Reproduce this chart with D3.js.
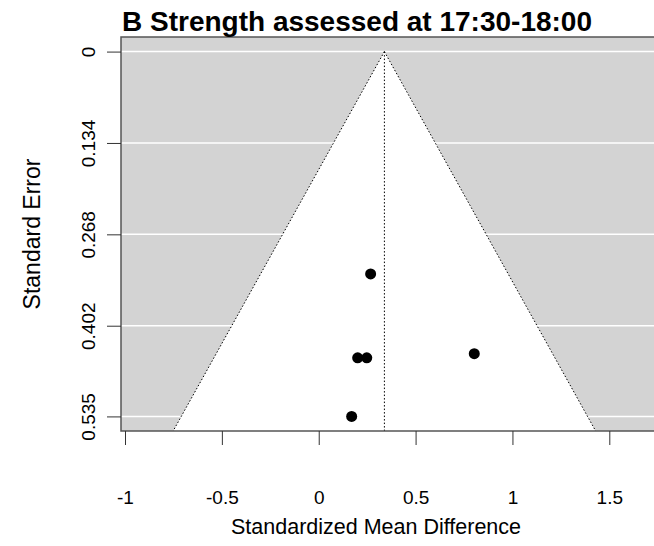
<!DOCTYPE html>
<html>
<head>
<meta charset="utf-8">
<script src="https://cdn.jsdelivr.net/npm/d3@7"></script>
<style>
  body { margin: 0; background: #fff; }
  text { font-family: "Liberation Sans", Arial, sans-serif; }
</style>
</head>
<body>
<div id="funnel"></div>
<script>
// study estimates
var smd = [0.268, 0.201, 0.248, 0.803, 0.170];
var se = [0.326, 0.449, 0.449, 0.443, 0.535];
var pooled = 0.339;
var yTicks = [0, 0.134, 0.268, 0.402, 0.535];
var xTicks = [-1, -0.5, 0, 0.5, 1, 1.5];

var width = 654, height = 546;
var plot = { left: 121, top: 37, right: 660, bottom: 431 };

var svg = d3.select("#funnel")
    .append("svg")
    .attr("width", width)
    .attr("height", height);

var x = d3.scaleLinear()
    .domain([-1, 1.5])
    .range([125, 609.3]);

var yMax = 0.535 * 1.04;
var y = d3.scaleLinear()
    .domain([-0.535 * 0.04, yMax])
    .range([plot.top, plot.bottom]);

svg.append("clipPath")
    .attr("id", "clip")
    .append("rect")
    .attr("x", plot.left)
    .attr("y", plot.top)
    .attr("width", plot.right - plot.left)
    .attr("height", plot.bottom - plot.top);

var g = svg.append("g").attr("clip-path", "url(#clip)");

// grey background
g.append("rect")
    .attr("x", plot.left)
    .attr("y", plot.top)
    .attr("width", plot.right - plot.left)
    .attr("height", plot.bottom - plot.top)
    .attr("fill", "#d3d3d3");

// white grid lines
g.selectAll(".grid")
    .data(yTicks)
    .enter()
    .append("line")
    .attr("x1", plot.left)
    .attr("x2", plot.right)
    .attr("y1", function(d) { return y(d); })
    .attr("y2", function(d) { return y(d); })
    .attr("stroke", "#fff")
    .attr("stroke-width", 1.5);

// funnel region
var lo = pooled - 1.96 * yMax, hi = pooled + 1.96 * yMax;
var funnel = [[pooled, 0], [lo, yMax], [hi, yMax]];
g.append("polygon")
    .attr("points", funnel.map(function(p) { return x(p[0]) + "," + y(p[1]); }).join(" "))
    .attr("fill", "#fff");

[[lo, yMax], [hi, yMax]].forEach(function(p) {
    g.append("line")
        .attr("x1", x(pooled)).attr("y1", y(0))
        .attr("x2", x(p[0])).attr("y2", y(p[1]))
        .attr("stroke", "#000")
        .attr("stroke-width", 1)
        .attr("stroke-dasharray", "1.5,2");
});

// pooled estimate line
g.append("line")
    .attr("x1", x(pooled)).attr("x2", x(pooled))
    .attr("y1", y(0)).attr("y2", plot.bottom)
    .attr("stroke", "#000")
    .attr("stroke-width", 1)
    .attr("stroke-dasharray", "1.5,2");

// studies
g.selectAll("circle")
    .data(smd)
    .enter()
    .append("circle")
    .attr("cx", function(d) { return x(d); })
    .attr("cy", function(d, i) { return y(se[i]); })
    .attr("r", 5.5)
    .attr("fill", "#000");

// box
svg.append("rect")
    .attr("x", plot.left)
    .attr("y", plot.top)
    .attr("width", plot.right - plot.left)
    .attr("height", plot.bottom - plot.top)
    .attr("fill", "none")
    .attr("stroke", "#555")
    .attr("stroke-width", 1.5);

// axes
var yAxis = svg.append("g")
    .attr("transform", "translate(" + plot.left + ",0)")
    .call(d3.axisLeft(y).tickValues(yTicks).tickSize(14).tickFormat(d3.format(".3~f")));
yAxis.select(".domain").remove();
yAxis.selectAll("line").attr("stroke", "#333");
yAxis.selectAll("text")
    .attr("font-size", 19)
    .attr("fill", "#000")
    .attr("transform", "translate(-26,0) rotate(-90)")
    .attr("x", 0)
    .attr("dy", 0)
    .attr("y", 0)
    .style("text-anchor", "middle");

var xAxis = svg.append("g")
    .attr("transform", "translate(0," + plot.bottom + ")")
    .call(d3.axisBottom(x).tickValues(xTicks).tickSize(14).tickFormat(function(d) { return String(d); }));
xAxis.select(".domain").remove();
xAxis.selectAll("line").attr("stroke", "#333");
xAxis.selectAll("text")
    .attr("font-size", 19)
    .attr("fill", "#000")
    .attr("y", 0)
    .attr("dy", 0)
    .attr("transform", "translate(0,73)");

// titles
svg.append("text")
    .attr("x", 122)
    .attr("y", 31)
    .attr("font-size", 28)
    .attr("font-weight", "bold")
    .text("B Strength assessed at 17:30-18:00");

svg.append("text")
    .attr("x", 376)
    .attr("y", 534)
    .attr("font-size", 21.5)
    .attr("text-anchor", "middle")
    .text("Standardized Mean Difference");

svg.append("text")
    .attr("transform", "translate(40," + ((plot.top + plot.bottom) / 2) + ") rotate(-90)")
    .attr("font-size", 23)
    .attr("text-anchor", "middle")
    .text("Standard Error");
</script>
</body>
</html>
